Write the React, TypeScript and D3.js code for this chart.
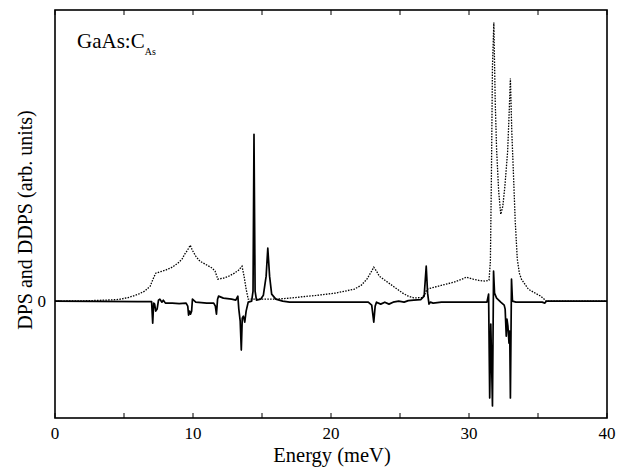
import React from "react";
import * as d3 from "d3";

// DPS (dotted) : energy (meV) and value (arb. units)
const dpsEnergy = [0, 2, 3, 4, 4.6, 5.3, 6, 6.5, 6.9, 7.1, 7.3, 8.0, 8.5, 8.9, 9.2, 9.4, 9.6, 9.8, 9.95, 10.2, 10.5, 10.9, 11.4, 11.6, 11.8, 12.2, 12.6, 13.0, 13.3, 13.55, 13.7, 13.85, 14.0, 15, 16, 17, 18, 18.9, 20.3, 21, 21.7, 22.2, 22.6, 22.9, 23.1, 23.3, 23.5, 23.9, 24.3, 24.8, 25.2, 25.6, 26.0, 26.6, 26.8, 26.95, 27.5, 28.2, 28.9, 29.5, 29.8, 30.3, 30.8, 31.2, 31.45, 31.55, 31.62, 31.7, 31.8, 31.9, 32.0, 32.15, 32.3, 32.45, 32.6, 32.8, 32.9, 33.0, 33.1, 33.2, 33.35, 33.5, 33.65, 33.8, 34.3, 34.8, 35.2, 35.45, 35.55, 40];
const dpsValue = [0, 0.3, 0.7, 1.2, 1.7, 3.5, 6.7, 10, 15, 22, 28, 31, 34, 38, 42, 47, 51, 56, 51, 45, 40, 37, 33, 30, 22, 23, 25, 28, 31, 35, 25, 12, 2, 2, 2, 3, 4.5, 5.7, 8, 10, 12, 16, 22, 29, 34, 30, 25, 21, 17, 12, 8, 5, 3.3, 3.5, 7, 12, 14, 16.5, 19, 22, 24, 22, 20.5, 20, 21, 40, 120, 235, 279, 200, 152, 110, 87, 95, 115, 150, 185, 223, 170, 135, 80, 42, 28, 22, 12, 8, 5, 2, 0, 0];

// DDPS (solid)
const ddpsEnergy = [0, 3, 6, 7.0, 7.08, 7.15, 7.22, 7.3, 7.4, 7.5, 7.6, 7.75, 7.85, 8.0, 8.5, 9.0, 9.5, 9.62, 9.68, 9.75, 9.82, 9.9, 9.96, 10.2, 11.0, 11.5, 11.62, 11.7, 11.78, 11.85, 12.2, 12.8, 13.1, 13.25, 13.32, 13.42, 13.5, 13.57, 13.65, 13.75, 13.85, 14.0, 14.25, 14.35, 14.42, 14.5, 14.6, 14.9, 15.1, 15.3, 15.42, 15.55, 15.7, 16, 16.5, 17, 22.7, 22.95, 23.1, 23.2, 23.3, 23.6, 23.9, 24.2, 24.5, 24.9, 25.3, 25.6, 26.0, 26.5, 26.75, 26.9, 27.0, 27.1, 27.2, 27.4, 28, 31.3, 31.42, 31.5, 31.58, 31.7, 31.78, 31.85, 32.0, 32.3, 32.55, 32.62, 32.7, 32.75, 32.82, 32.9, 32.95, 33.0, 33.08, 33.15, 33.4, 35.3, 35.5, 35.6, 40];
const ddpsValue = [0, -0.3, -0.5, -0.5, -22, -2, -3, -10, -8, 1, 2, -1, 1, -2, -2, -2.5, -2, -5, -14, -10, -13, -10, 2, -1, -2, -2, -5, -13, 2, 5, 3, 2, 1, 5, -8, -20, -49, -17, -15, -21, -10, -1, 0, 10, 167, 10, 1, 2, 6, 25, 53, 25, 7, 2, 0, -1, -1, -4, -21, -5, -1, -3, -1, -3, -1, 0, -1, 0.5, 1, 1.5, 5, 35, 8, -3, -1, -2, -1, -1, 7, -97, -23, -105, 30, 8, 3, -1, -4, -8, -35, -18, -25, -42, -30, -97, 22, 0, -1, -1, -2, 0, 0];

const xTicks = [0, 10, 20, 30, 40];
const xMinorTicks = [0, 5, 10, 15, 20, 25, 30, 35, 40];

const W = 619;
const H = 469;
const left = 55, right = 607, top = 10, bottom = 418;

const font = '"Liberation Serif", "Times New Roman", Times, "DejaVu Serif", serif';

export default function App() {
  const x = d3.scaleLinear().domain([0, 40]).range([left, right]);
  const y = d3.scaleLinear().domain([-117, 291.5]).range([bottom, top]);

  const dps = dpsEnergy.map((e, i) => [e, dpsValue[i]] as [number, number]);
  const ddps = ddpsEnergy.map((e, i) => [e, ddpsValue[i]] as [number, number]);
  const line = d3.line<[number, number]>().x((d) => x(d[0])).y((d) => y(d[1]));

  const ts = { fontFamily: font, fill: "#000" };

  return (
    <svg width={W} height={H} style={{ position: "absolute", left: 0, top: 0, background: "#fff" }}>
      <rect x={0} y={0} width={W} height={H} fill="#fff" />
      <path d={line(dps) || ""} fill="none" stroke="#000" strokeWidth={1.3} strokeDasharray="1.5,1.3" />
      <path d={line(ddps) || ""} fill="none" stroke="#000" strokeWidth={1.7} strokeLinejoin="round" />
      <rect x={left} y={top} width={right - left} height={bottom - top} fill="none" stroke="#000" strokeWidth={1.6} />
      {xMinorTicks.map((t) => (
        <g key={"t" + t}>
          <line x1={x(t)} x2={x(t)} y1={bottom} y2={bottom - 5} stroke="#000" strokeWidth={1} />
          <line x1={x(t)} x2={x(t)} y1={top} y2={top + 5} stroke="#000" strokeWidth={1} />
        </g>
      ))}
      <line x1={left} x2={left + 6} y1={y(0)} y2={y(0)} stroke="#000" strokeWidth={1} />
      {xTicks.map((t) => (
        <text key={"l" + t} x={x(t)} y={439} textAnchor="middle" fontSize={17} style={ts}>{t}</text>
      ))}
      <text x={46} y={307} textAnchor="end" fontSize={17} style={ts}>0</text>
      <text x={332} y={462} textAnchor="middle" fontSize={20.5} style={ts}>Energy (meV)</text>
      <text transform="translate(32,220) rotate(-90)" textAnchor="middle" fontSize={20} style={ts}>DPS and DDPS (arb. units)</text>
      <text x={77} y={48} fontSize={21} style={ts}>GaAs:C<tspan fontSize={10} dy={7}>As</tspan></text>
    </svg>
  );
}
